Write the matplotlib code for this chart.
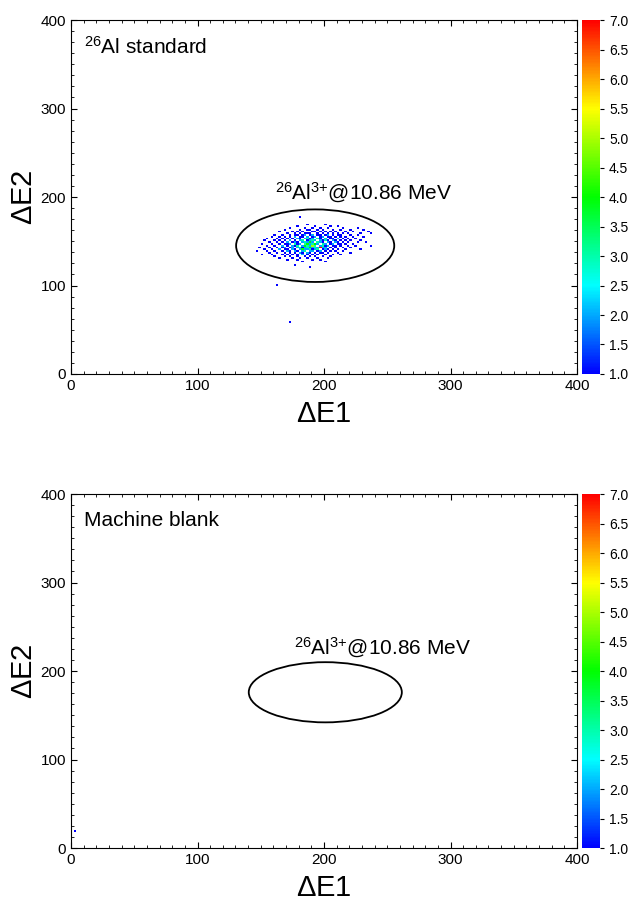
import matplotlib.pyplot as plt
import numpy as np
from matplotlib.colors import LinearSegmentedColormap
from matplotlib.patches import Ellipse
from matplotlib.ticker import MultipleLocator

plt.rcParams['font.family'] = ['Liberation Sans', 'DejaVu Sans']
plt.rcParams['mathtext.fontset'] = 'custom'
plt.rcParams['mathtext.rm'] = 'Liberation Sans'
plt.rcParams['mathtext.it'] = 'Liberation Sans:italic'

# 26Al standard: occupied (dE1, dE2) cells with counts, one row per dE2 bin
rows = {
    176: [(180, 1)],
    168: [(186, 1), (200, 1)],
    166: [(178, 1), (192, 1), (204, 1), (210, 1)],
    164: [(172, 1), (184, 1), (190, 1), (196, 1), (202, 1), (214, 1), (226, 1)],
    162: [(168, 1), (180, 1), (186, 1), (188, 1), (194, 1), (198, 1), (206, 1), (212, 1), (220, 1), (230, 1)],
    160: [(164, 1), (174, 1), (178, 1), (182, 1), (190, 1), (192, 1), (196, 1), (200, 1), (204, 1), (208, 1),
          (216, 1), (222, 1), (234, 1)],
    158: [(170, 1), (176, 1), (180, 1), (184, 1), (186, 1), (188, 1), (194, 1), (198, 1), (202, 1), (206, 1),
          (210, 1), (214, 1), (218, 1), (228, 1), (236, 1)],
    156: [(160, 1), (166, 1), (172, 1), (176, 1), (178, 1), (182, 1), (184, 2), (188, 1), (190, 2), (194, 1),
          (196, 1), (200, 1), (202, 2), (206, 1), (210, 1), (212, 1), (220, 1), (226, 1)],
    154: [(158, 1), (164, 1), (168, 1), (172, 1), (176, 2), (180, 1), (182, 1), (186, 2), (190, 1), (192, 2),
          (196, 1), (198, 2), (202, 1), (204, 1), (208, 1), (212, 1), (216, 1), (222, 1), (230, 1)],
    152: [(154, 1), (162, 1), (166, 1), (170, 1), (174, 1), (178, 2), (180, 1), (184, 2), (186, 3), (188, 1),
          (190, 2), (194, 3), (196, 1), (200, 2), (204, 1), (206, 1), (210, 2), (214, 1), (218, 1), (224, 1)],
    150: [(152, 1), (160, 1), (164, 1), (168, 1), (172, 2), (176, 1), (180, 2), (182, 3), (186, 1), (188, 2),
          (190, 3), (192, 2), (196, 2), (198, 1), (200, 3), (202, 1), (206, 2), (208, 1), (212, 1), (216, 1),
          (220, 1), (228, 1)],
    148: [(156, 1), (162, 1), (166, 1), (170, 2), (174, 1), (176, 2), (178, 1), (182, 2), (184, 3), (186, 2),
          (188, 4), (190, 2), (194, 3), (196, 2), (198, 1), (202, 2), (204, 1), (208, 2), (210, 1), (214, 1),
          (218, 1), (226, 1), (232, 1)],
    146: [(150, 1), (158, 1), (164, 1), (168, 1), (170, 1), (172, 2), (176, 3), (178, 1), (180, 2), (184, 3),
          (186, 4), (188, 2), (190, 3), (192, 4), (194, 2), (198, 3), (200, 2), (204, 1), (206, 2), (210, 1),
          (212, 1), (216, 1), (222, 1)],
    144: [(154, 1), (160, 1), (166, 2), (170, 1), (174, 2), (176, 1), (178, 3), (182, 2), (184, 4), (186, 3),
          (188, 2), (190, 5), (192, 3), (196, 2), (198, 3), (200, 1), (202, 2), (206, 1), (208, 1), (212, 1),
          (218, 1), (224, 1), (236, 1)],
    142: [(148, 1), (156, 1), (162, 1), (166, 1), (168, 2), (172, 1), (174, 2), (178, 2), (180, 3), (182, 1),
          (184, 2), (186, 3), (188, 4), (190, 2), (192, 3), (194, 2), (196, 7), (198, 2), (200, 2), (204, 1),
          (208, 1), (214, 1), (220, 1)],
    140: [(152, 1), (158, 1), (164, 2), (168, 1), (170, 1), (174, 2), (176, 1), (180, 2), (182, 4), (184, 2),
          (186, 2), (188, 3), (190, 1), (192, 2), (194, 3), (198, 1), (200, 2), (202, 1), (206, 1), (210, 1),
          (216, 1), (228, 1)],
    138: [(146, 1), (154, 1), (160, 1), (166, 1), (170, 2), (172, 1), (176, 2), (178, 1), (182, 2), (184, 3),
          (188, 2), (190, 2), (194, 1), (196, 2), (200, 1), (204, 1), (208, 1), (214, 1)],
    136: [(156, 1), (162, 1), (168, 1), (172, 1), (176, 1), (180, 2), (182, 1), (186, 2), (188, 1), (192, 1),
          (196, 1), (198, 1), (202, 1), (210, 1), (220, 1)],
    134: [(150, 1), (158, 1), (166, 1), (170, 1), (174, 1), (178, 1), (182, 2), (186, 1), (190, 1), (194, 1),
          (200, 1), (206, 1), (212, 1)],
    132: [(160, 1), (168, 1), (172, 1), (178, 1), (184, 1), (188, 1), (192, 1), (198, 1), (204, 1)],
    130: [(164, 1), (174, 1), (180, 1), (186, 1), (194, 1), (202, 1)],
    128: [(170, 1), (178, 1), (190, 1), (196, 1)],
    126: [(182, 1), (200, 1)],
    122: [(176, 1)],
    120: [(188, 1)],
    100: [(162, 1)],
    58: [(172, 1)],
}
std_x = [x for yv, cells in rows.items() for x, n in cells]
std_y = [yv for yv, cells in rows.items() for x, n in cells]
std_n = [n for yv, cells in rows.items() for x, n in cells]

# machine blank: a single event
blank_x = [3]
blank_y = [18]
blank_n = [1]

# gate ellipses (centre x, centre y, width, height)
gate_std = (193, 145, 125, 82)
gate_blank = (201, 176, 121, 68)

cmap = LinearSegmentedColormap.from_list(
    'rb', ['#0000ff', '#00ffff', '#00ff00', '#ffff00', '#ff0000'])
bins = np.arange(0, 402, 2)
ion_label = r'$^{26}$Al$^{3{+}}$@10.86 MeV'

fig = plt.figure(figsize=(6.33, 9.06), dpi=100)


def panel(bottom, xs, ys, ns, gate, label, ann_xy):
    ax = fig.add_axes([0.1122, bottom, 0.7994, 0.3907])
    h = ax.hist2d(xs, ys, bins=[bins, bins], weights=ns, cmin=1,
                  cmap=cmap, vmin=1, vmax=7)
    cx, cy, w, hh = gate
    ax.add_patch(Ellipse((cx, cy), w, hh, fill=False, lw=1.3, ec='black'))
    ax.text(ann_xy[0], ann_xy[1], ion_label, fontsize=15,
            ha='center', va='center')
    ax.text(0.025, 0.925, label, transform=ax.transAxes, fontsize=15,
            va='center', ha='left')
    ax.set_xlim(0, 400)
    ax.set_ylim(0, 400)
    ax.set_xticks([0, 100, 200, 300, 400])
    ax.set_yticks([0, 100, 200, 300, 400])
    ax.xaxis.set_minor_locator(MultipleLocator(10))
    ax.yaxis.set_minor_locator(MultipleLocator(12.5))
    ax.tick_params(which='both', direction='in', top=True, right=True,
                   labelsize=11)
    ax.tick_params(which='major', length=4)
    ax.tick_params(which='minor', length=2)
    ax.set_xlabel(r'$\Delta$E1', fontsize=21, labelpad=5)
    ax.set_ylabel(r'$\Delta$E2', fontsize=21, labelpad=2)
    cax = fig.add_axes([0.9194, bottom, 0.0284, 0.3907])
    cb = fig.colorbar(h[3], cax=cax)
    cb.set_ticks(np.arange(1.0, 7.01, 0.5))
    cb.ax.set_yticklabels(['%.1f' % v for v in np.arange(1.0, 7.01, 0.5)])
    cb.ax.tick_params(labelsize=10, length=3)
    cb.outline.set_visible(False)
    return ax


panel(0.5872, std_x, std_y, std_n, gate_std, r'$^{26}$Al standard', (231, 205))
panel(0.0640, blank_x, blank_y, blank_n, gate_blank, 'Machine blank', (246, 226))

fig.savefig('out.png', dpi=100)
